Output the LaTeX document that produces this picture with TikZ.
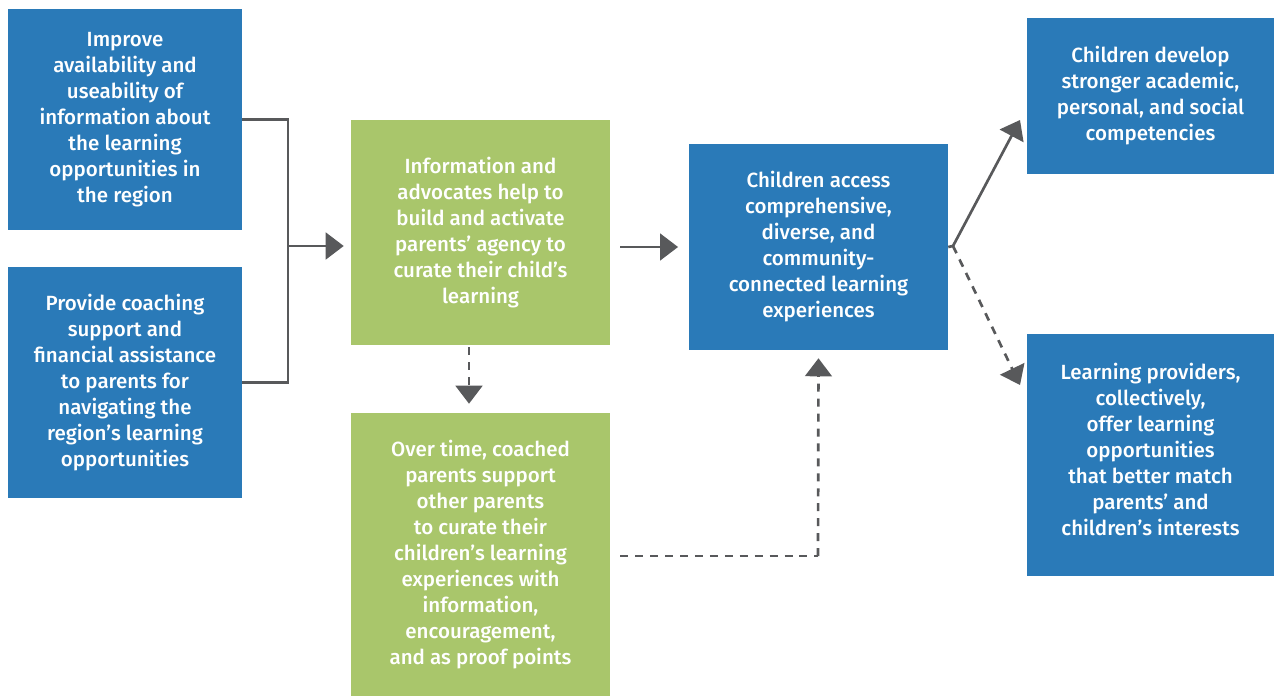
\documentclass[tikz,border=0pt]{standalone}
\usepackage{fontspec}
\setmainfont{Fira Sans Medium}
\usetikzlibrary{arrows.meta}
\definecolor{cblue}{HTML}{2A7AB8}
\definecolor{cgreen}{HTML}{A9C66B}
\definecolor{cgray}{HTML}{58595B}
\begin{document}
\begin{tikzpicture}[x=0.75pt,y=-0.75pt,
  box/.style={draw=none,inner sep=0pt,text=white,align=center,
    font=\fontsize{15.4}{19.5}\selectfont},
  bluebox/.style={box,fill=cblue},
  greenbox/.style={box,fill=cgreen},
  con/.style={draw=cgray,line width=2pt},
  arr/.style={con,-{Triangle[length=13.5pt,width=20pt]}},
  dsh/.style={dash pattern=on 6pt off 5.2pt}]
\useasboundingbox (0,0) rectangle (1274,696);
\node[bluebox,minimum width=234*0.75pt,minimum height=221*0.75pt] (A) at (125,119.5)
  {Improve\\availability and\\useability of\\information about\\the learning\\opportunities in\\the region};
\node[bluebox,minimum width=234*0.75pt,minimum height=231*0.75pt] (B) at (125,382.5)
  {Provide coaching\\support and\\financial assistance\\to parents for\\navigating the\\region’s learning\\opportunities};
\node[greenbox,minimum width=259*0.75pt,minimum height=225*0.75pt] (C) at (480.5,232.5)
  {Information and\\advocates help to\\build and activate\\parents’ agency to\\curate their child’s\\learning};
\node[greenbox,minimum width=259*0.75pt,minimum height=283*0.75pt] (D) at (480.5,554.5)
  {Over time, coached\\parents support\\other parents\\to curate their\\children’s learning\\experiences with\\information,\\encouragement,\\and as proof points};
\node[bluebox,minimum width=259*0.75pt,minimum height=206*0.75pt] (E) at (818.5,247)
  {Children access\\comprehensive,\\diverse, and\\community-\\connected learning\\experiences};
\node[bluebox,minimum width=247*0.75pt,minimum height=156*0.75pt] (F) at (1150.5,96)
  {Children develop\\stronger academic,\\personal, and social\\competencies};
\node[bluebox,minimum width=247*0.75pt,minimum height=242*0.75pt] (G) at (1150.5,455)
  {Learning providers,\\collectively,\\offer learning\\opportunities\\that better match\\parents’ and\\children’s interests\\[-10.5pt]};
% bracket
\coordinate (j) at (288,246);
\draw[con] (A.east) -| (j);
\draw[con] (B.east) -| (j);
\draw[arr,shorten >=5.25pt] (j) -- (C.west |- j);
% C -> E
\draw[arr,shorten <=7.5pt,shorten >=8pt] (C.east |- E.west) -- (E.west);
% C -> D dashed
\draw[arr,dsh,shorten <=1.5pt,shorten >=6.75pt] ([xshift=-11.5*0.75pt]C.south) -- ([xshift=-11.5*0.75pt]D.north);
% D -> E dashed
\coordinate (dk) at (818,556);
\draw[con,dsh,shorten <=7.5pt] (D.east |- dk) -- (dk);
\draw[arr,dsh,shorten >=6pt] (dk) -- (E.south);
% E -> F, E -> G
\coordinate (es) at (953,246);
\coordinate (ft) at (1020,120);
\coordinate (gt) at (1020,385);
\draw[con] (E.east) -- (es);
\draw[arr] (es) -- (ft);
\draw[arr,dsh] (es) -- (gt);
\end{tikzpicture}
\end{document}
